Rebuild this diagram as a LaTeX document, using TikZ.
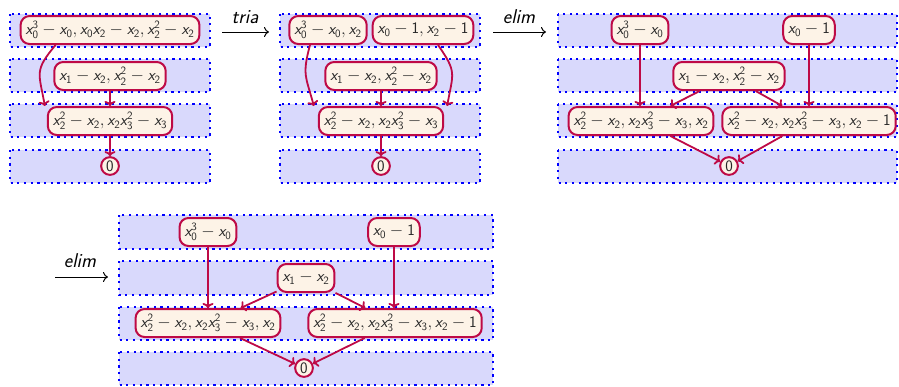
\documentclass[tikz,border=0pt]{standalone}
\usetikzlibrary{arrows.meta}
\DeclareSymbolFont{sfletters}{TU}{lmss}{m}{sl}
\DeclareSymbolFont{sfdigits}{TU}{lmss}{m}{n}
\DeclareMathSymbol{x}{\mathalpha}{sfletters}{`x}
\DeclareMathSymbol{0}{\mathalpha}{sfdigits}{`0}
\DeclareMathSymbol{1}{\mathalpha}{sfdigits}{`1}
\DeclareMathSymbol{2}{\mathalpha}{sfdigits}{`2}
\DeclareMathSymbol{3}{\mathalpha}{sfdigits}{`3}
\definecolor{bandfill}{RGB}{217,217,252}
\definecolor{dotblue}{RGB}{0,0,255}
\definecolor{nodefill}{RGB}{253,243,231}
\definecolor{crim}{RGB}{190,10,70}
\tikzset{
  band/.style={fill=bandfill, draw=dotblue, line width=2.2pt, dash pattern=on 2.2pt off 4.5pt},
  poly/.style={draw=crim, fill=nodefill, line width=2pt, rounded corners=9pt,
    minimum height=28pt, inner xsep=5pt, inner ysep=3pt, text=black!85,
    font=\fontsize{16}{19}\selectfont},
  zero/.style={circle, draw=crim, fill=nodefill, line width=2pt, inner sep=1.6pt,
    text=black!85, font=\fontsize{16}{19}\selectfont},
  link/.style={draw=crim, line width=1.8pt, -{To[length=5pt,width=11pt]}},
  steplabel/.style={font=\fontsize{20}{24}\selectfont\sffamily\itshape, text=black},
  steparrow/.style={draw=black, line width=1pt, -{To[length=5pt,width=10pt]}}
}
\begin{document}
\begin{tikzpicture}[x=1pt,y=-1pt]
\useasboundingbox (0,0) rectangle (899,386);
% bands
\foreach \xa/\xb in {10/210, 280/480, 558/897}{
  \foreach \ya/\yb in {14/47, 59/92, 104/137, 150/183}{
    \path[band] (\xa,\ya) rectangle (\xb,\yb);
  }
}
\foreach \ya/\yb in {215/249, 261/295, 307/340, 352/385}{
  \path[band] (119,\ya) rectangle (493,\yb);
}
% panel 1
\node[poly] (N1) at (110,30) {$x_0^3 - x_0, x_0x_2 - x_2, x_2^2 - x_2$};
\node[poly] (N2) at (110,76) {$x_1 - x_2, x_2^2 - x_2$};
\node[poly] (N3) at (110,121) {$x_2^2 - x_2, x_2x_3^2 - x_3$};
\node[zero] (N4) at (110,166) {$0$};
\draw[link] ([xshift=36pt]N1.south west) to[out=-130,in=100,looseness=1.4] ([xshift=-2pt]N3.north west);
\draw[link] (N2) -- (N3);
\draw[link] (N3) -- (N4);
% arrow tria
\node[steplabel] (L1) at (245,17) {tria};
\coordinate (L1a) at (222,32);
\coordinate (L1b) at (269,32);
\draw[steparrow] (L1a) -- (L1b);
% panel 2
\node[poly] (A) at (328,30) {$x_0^3 - x_0, x_2$};
\node[poly] (B) at (423,30) {$x_0 - 1, x_2 - 1$};
\node[poly] (C) at (381,76) {$x_1 - x_2, x_2^2 - x_2$};
\node[poly] (D) at (381,121) {$x_2^2 - x_2, x_2x_3^2 - x_3$};
\node[zero] (E) at (381,166) {$0$};
\draw[link] ([xshift=-18pt]A.south) to[out=-105,in=105,looseness=1.3] ([xshift=-4pt]D.north west);
\draw[link] ([xshift=15pt]B.south) to[out=-55,in=80,looseness=1.4] ([xshift=3pt]D.north east);
\draw[link] (C) -- (D);
\draw[link] (D) -- (E);
% arrow elim
\node[steplabel] (L2) at (519,17) {elim};
\coordinate (L2a) at (493,32);
\coordinate (L2b) at (546,32);
\draw[steparrow] (L2a) -- (L2b);
% panel 3
\node[poly] (P) at (640,30) {$x_0^3 - x_0$};
\node[poly] (Q) at (809,30) {$x_0 - 1$};
\node[poly] (R) at (729,76) {$x_1 - x_2, x_2^2 - x_2$};
\node[poly] (S) at (641,121) {$x_2^2 - x_2, x_2x_3^2 - x_3, x_2$};
\node[poly] (T) at (809,121) {$x_2^2 - x_2, x_2x_3^2 - x_3, x_2 - 1$};
\node[zero] (U) at (729,166) {$0$};
\draw[link] (P.south) -- (P.south |- S.north);
\draw[link] (Q.south) -- (Q.south |- T.north);
\draw[link] (R) -- (S);
\draw[link] (R) -- (T);
\draw[link] (S) -- (U);
\draw[link] (T) -- (U);
% arrow elim 2
\node[steplabel] (L3) at (80,261) {elim};
\coordinate (L3a) at (55,277);
\coordinate (L3b) at (108,277);
\draw[steparrow] (L3a) -- (L3b);
% panel 4
\node[poly] (P4) at (208,232) {$x_0^3 - x_0$};
\node[poly] (Q4) at (394,232) {$x_0 - 1$};
\node[poly] (R4) at (306,278) {$x_1 - x_2$};
\node[poly] (S4) at (208,323) {$x_2^2 - x_2, x_2x_3^2 - x_3, x_2$};
\node[poly] (T4) at (395,323) {$x_2^2 - x_2, x_2x_3^2 - x_3, x_2 - 1$};
\node[zero] (U4) at (304,368) {$0$};
\draw[link] (P4.south) -- (P4.south |- S4.north);
\draw[link] (Q4.south) -- (Q4.south |- T4.north);
\draw[link] (R4) -- (S4);
\draw[link] (R4) -- (T4);
\draw[link] (S4) -- (U4);
\draw[link] (T4) -- (U4);
\end{tikzpicture}
\end{document}
